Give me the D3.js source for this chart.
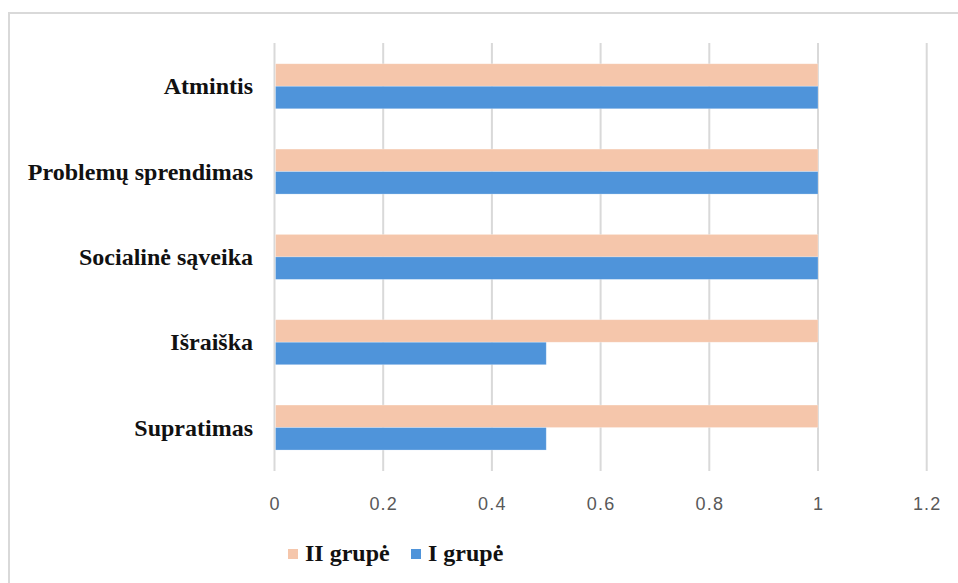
<!DOCTYPE html>
<html>
<head>
<meta charset="utf-8">
<script src="https://cdn.jsdelivr.net/npm/d3@7"></script>
<style>
  html, body { margin: 0; padding: 0; background: #fff; }
  svg { display: block; }
</style>
</head>
<body>
<svg id="chart" width="958" height="583"></svg>
<script>
// Categories, top to bottom
const categories = ["Atmintis", "Problemų sprendimas", "Socialinė sąveika", "Išraiška", "Supratimas"];
// Series values
const seriesNames = ["II grupė", "I grupė"];
const grupeII = [1, 1, 1, 1, 1];
const grupeI = [1, 1, 1, 0.5, 0.5];
// Axis ticks
const xTicks = [0, 0.2, 0.4, 0.6, 0.8, 1, 1.2];
const tickLabels = ["0", "0.2", "0.4", "0.6", "0.8", "1", "1.2"];

const colors = { "II grupė": "#F5C6AB", "I grupė": "#4F94DA" };

const svg = d3.select("#chart");

// Outer chart-area frame
svg.append("rect")
  .attr("x", 9).attr("y", 13)
  .attr("width", 1000).attr("height", 700)
  .attr("fill", "none")
  .attr("stroke", "#d9d9d9")
  .attr("stroke-width", 2);

const plot = { left: 274.5, right: 926.7, top: 43.6, bottom: 470.2 };

const x = d3.scaleLinear().domain([0, 1.2]).range([plot.left, plot.right]);
const y = d3.scaleBand().domain(categories)
  .range([plot.top, plot.bottom])
  .paddingInner(0.4726).paddingOuter(0.2363);
const ySub = d3.scaleBand().domain(seriesNames).range([0, y.bandwidth()]);

// Vertical gridlines
svg.append("g")
  .selectAll("line")
  .data(xTicks)
  .join("line")
  .attr("x1", d => x(d)).attr("x2", d => x(d))
  .attr("y1", 43).attr("y2", 471)
  .attr("stroke", "#d9d9d9")
  .attr("stroke-width", 2);

// Bars
const rows = categories.map((c, i) => ({
  cat: c,
  values: [
    { s: "II grupė", v: grupeII[i] },
    { s: "I grupė", v: grupeI[i] }
  ]
}));

const groups = svg.append("g")
  .selectAll("g")
  .data(rows)
  .join("g")
  .attr("transform", d => `translate(0,${y(d.cat)})`);

groups.selectAll("rect")
  .data(d => d.values)
  .join("rect")
  .attr("x", x(0) + 1)
  .attr("y", d => ySub(d.s))
  .attr("width", d => x(d.v) - x(0) - 1)
  .attr("height", ySub.bandwidth())
  .attr("fill", d => colors[d.s])
  .attr("stroke", "#ffffff")
  .attr("stroke-opacity", 0.35)
  .attr("stroke-width", 0.75);

// Category labels
svg.append("g")
  .selectAll("text")
  .data(categories)
  .join("text")
  .attr("x", 253)
  .attr("y", d => y(d) + y.bandwidth() / 2 + 8)
  .attr("text-anchor", "end")
  .attr("font-family", "'Liberation Serif', 'Times New Roman', serif")
  .attr("font-weight", "bold")
  .attr("font-size", 24)
  .attr("fill", "#111")
  .text(d => d);

// X axis labels
const xAxis = d3.axisBottom(x)
  .tickValues(xTicks)
  .tickFormat((d, i) => tickLabels[i])
  .tickSize(0)
  .tickPadding(0);

const gx = svg.append("g")
  .attr("transform", "translate(0,510)")
  .call(xAxis);
gx.select(".domain").remove();
gx.selectAll("text")
  .attr("dy", 0)
  .attr("font-family", "'Liberation Sans', Arial, sans-serif")
  .attr("font-size", 18)
  .attr("letter-spacing", "1.2px")
  .attr("fill", "#595959");

// Legend
const legendItems = [
  { s: "II grupė", x: 288 },
  { s: "I grupė", x: 411 }
];
const lg = svg.append("g");
lg.selectAll("rect")
  .data(legendItems)
  .join("rect")
  .attr("x", d => d.x).attr("y", 549)
  .attr("width", 10).attr("height", 10)
  .attr("fill", d => colors[d.s]);
lg.selectAll("text")
  .data(legendItems)
  .join("text")
  .attr("x", d => d.x + 17)
  .attr("y", 561)
  .attr("font-family", "'Liberation Serif', 'Times New Roman', serif")
  .attr("font-weight", "bold")
  .attr("font-size", 24)
  .attr("fill", "#111")
  .text(d => d.s);
</script>
</body>
</html>
